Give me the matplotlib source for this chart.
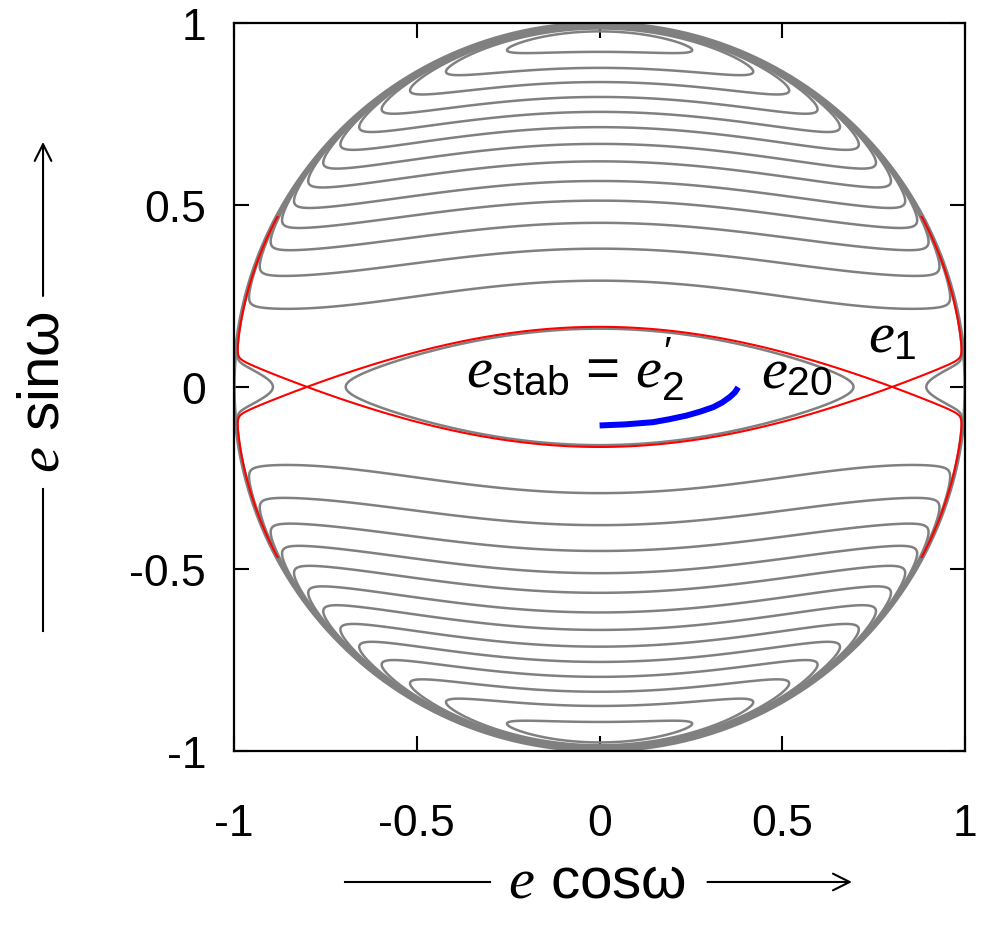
import numpy as np
import matplotlib
matplotlib.use('Agg')
import matplotlib.pyplot as plt
from matplotlib.patches import Rectangle, FancyArrowPatch
from matplotlib.lines import Line2D

plt.rcParams['font.family'] = ['Liberation Sans', 'DejaVu Sans']
plt.rcParams['mathtext.fontset'] = 'custom'
plt.rcParams['mathtext.rm'] = 'Liberation Sans'
plt.rcParams['mathtext.it'] = 'Liberation Serif:italic'
plt.rcParams['mathtext.sf'] = 'Liberation Sans'

# e sin(w) where each gray curve crosses e cos(w) = 0 (lower half is the mirror image)
crossing_y = [0.160, 0.292, 0.380, 0.451, 0.512, 0.566, 0.620, 0.668,
              0.714, 0.756, 0.797, 0.838, 0.877, 0.921]
saddle_x = 0.80      # hyperbolic points of the separatrix (red)
red_y_limit = 0.47   # red branches are drawn up to |e sin w| = 0.47

# blue trajectory (e_stab)
blue_x = [0.0, 0.07, 0.146, 0.19, 0.237, 0.275, 0.31, 0.335, 0.356, 0.37, 0.379]
blue_y = [-0.106, -0.103, -0.097, -0.089, -0.079, -0.068, -0.056, -0.043, -0.028, -0.015, -0.001]

tick_vals = [-1, -0.5, 0, 0.5, 1]
tick_text = ['-1', '-0.5', '0', '0.5', '1']

# secular hamiltonian used for the level curves
a = 0.0846
b = a / (2 * saddle_x**2)
g = 0.40
k = 0.0068


def ham(x, y):
    return a*x**2 - b*x**4 + (1 + g*x**2)*y**2 - k*y**2/(1 - x**2 - y**2)


n = 1601
xs = np.linspace(-1, 1, n)
X, Y = np.meshgrid(xs, xs)
R2 = X**2 + Y**2
Z = np.full_like(X, np.nan)
inside = R2 < 0.9995
Z[inside] = ham(X[inside], Y[inside])

gray = '#808080'

fig = plt.figure(figsize=(9.87, 9.28), dpi=100)
ax = fig.add_axes([0.237, 0.190, 0.741, 0.784])

levels = np.sort(ham(0.0, np.array(crossing_y)))
ax.contour(X, Y, Z, levels=levels, colors=gray, linewidths=1.8)

t = np.linspace(0, 2*np.pi, 721)
ax.plot(np.cos(t), np.sin(t), color=gray, lw=2.6)

cs = ax.contour(X, Y, Z, levels=[ham(saddle_x, 0.0)], colors='red', linewidths=1.5)
clip = Rectangle((-1.1, -red_y_limit), 2.2, 2*red_y_limit, transform=ax.transData)
cs.set_clip_path(clip)

ax.plot(blue_x, blue_y, color='blue', lw=4.3, solid_capstyle='butt')

ax.text(-0.364, 0.0, r'$e_{\mathrm{stab}}\,=\,e_2^{\prime}$', fontsize=42, ha='left', va='baseline')
ax.text(0.44, 0.0, r'$e_{20}$', fontsize=42, ha='left', va='baseline')
ax.text(0.734, 0.099, r'$e_1$', fontsize=42, ha='left', va='baseline')

ax.set_xlim(-1, 1)
ax.set_ylim(-1, 1)
ax.set_xticks(tick_vals)
ax.set_xticklabels(tick_text)
ax.set_yticks(tick_vals)
ax.set_yticklabels(tick_text)
ax.tick_params(direction='in', length=11, width=1.5, top=True, right=True, labelsize=32)
ax.tick_params(axis='x', pad=38)
ax.tick_params(axis='y', pad=20)
for s in ax.spines.values():
    s.set_linewidth(1.6)

# axis labels with arrows
fig.text(0.605, 0.0485, r'$e$ cosω', ha='center', va='center', fontsize=42)
fig.add_artist(Line2D([0.3495, 0.4965], [0.0485, 0.0485], transform=fig.transFigure, color='k', lw=1.5))
fig.add_artist(FancyArrowPatch((0.714, 0.0485), (0.866, 0.0485), transform=fig.transFigure,
                               arrowstyle='->', mutation_scale=30, lw=1.5, color='k'))

fig.text(0.0436, 0.578, r'$e$ sinω', ha='center', va='center', fontsize=42, rotation=90)
fig.add_artist(Line2D([0.0436, 0.0436], [0.319, 0.472], transform=fig.transFigure, color='k', lw=1.5))
fig.add_artist(FancyArrowPatch((0.0436, 0.677), (0.0436, 0.849), transform=fig.transFigure,
                               arrowstyle='->', mutation_scale=30, lw=1.5, color='k'))

fig.savefig('out.png', dpi=100)
